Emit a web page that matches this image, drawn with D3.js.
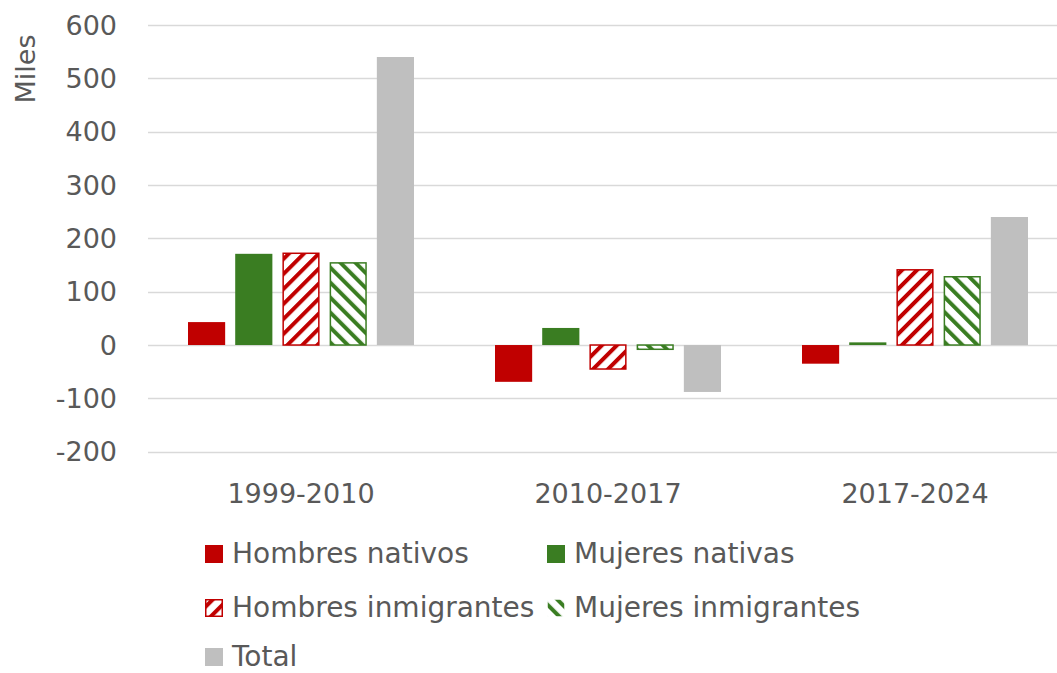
<!DOCTYPE html>
<html>
<head>
<meta charset="utf-8">
<script src="https://cdn.jsdelivr.net/npm/d3@7"></script>
<style>
  html, body { margin: 0; padding: 0; background: #fff; }
  svg { display: block; }
  text { font-family: "DejaVu Sans", sans-serif; fill: #595959; }
</style>
</head>
<body>
<svg id="chart" width="1057" height="673"></svg>
<script>
const categories = ["1999-2010", "2010-2017", "2017-2024"];
const seriesNames = ["Hombres nativos", "Mujeres nativas", "Hombres inmigrantes", "Mujeres inmigrantes", "Total"];
const hombresNativos = [43, -69, -35];
const mujeresNativas = [171, 32, 5];
const hombresInmigrantes = [172, -45, 141];
const mujeresInmigrantes = [154, -8, 128];
const total = [540, -88, 240];
const yTicks = [-200, -100, 0, 100, 200, 300, 400, 500, 600];
const yLabel = "Miles";

const seriesValues = [hombresNativos, mujeresNativas, hombresInmigrantes, mujeresInmigrantes, total];
const styles = [
  { fill: "#c00000", stroke: "none" },
  { fill: "#3a7d22", stroke: "none" },
  { fill: "url(#hatchRed)", stroke: "#c00000" },
  { fill: "url(#hatchGreen)", stroke: "#3a7d22" },
  { fill: "#bfbfbf", stroke: "none" }
];

const svg = d3.select("#chart");
const defs = svg.append("defs");
function hatch(id, color, angle) {
  const p = defs.append("pattern").attr("id", id)
    .attr("patternUnits", "userSpaceOnUse")
    .attr("width", 10.6).attr("height", 10.6)
    .attr("patternTransform", `rotate(${angle})`);
  p.append("rect").attr("width", 10.6).attr("height", 10.6).attr("fill", "#fff");
  p.append("rect").attr("x", 0).attr("width", 4).attr("height", 10.6).attr("fill", color);
}
hatch("hatchRed", "#c00000", 45);
hatch("hatchGreen", "#3a7d22", -45);

const plotLeft = 148, plotRight = 1069, gridRight = 1057;
const y = d3.scaleLinear().domain([-200, 600]).range([451.7, 25]);
const x0 = d3.scaleBand().domain(categories).range([plotLeft, plotRight]);
const x1 = d3.scaleBand().domain(seriesNames).range([40, 266]).paddingInner(10 / 47);

// grid
svg.append("g").selectAll("line").data(yTicks).join("line")
  .attr("x1", plotLeft).attr("x2", gridRight)
  .attr("y1", d => Math.round(y(d)) + 0.5).attr("y2", d => Math.round(y(d)) + 0.5)
  .attr("stroke", "#d9d9d9").attr("stroke-width", 1.3);

// y tick labels
svg.append("g").selectAll("text").data(yTicks).join("text")
  .attr("x", 117).attr("y", d => y(d)).attr("dy", "0.36em")
  .attr("text-anchor", "end").attr("font-size", 27)
  .text(d => d);

// y label
svg.append("text")
  .attr("transform", "translate(35,69) rotate(-90)")
  .attr("text-anchor", "middle").attr("font-size", 27)
  .text(yLabel);

// bars
seriesNames.forEach((name, si) => {
  const st = styles[si];
  svg.append("g").selectAll("rect").data(seriesValues[si]).join("rect")
    .attr("x", (d, i) => x0(categories[i]) + x1(name) + (st.stroke !== "none" ? 0.75 : 0))
    .attr("width", x1.bandwidth() - (st.stroke !== "none" ? 1.5 : 0))
    .attr("y", d => Math.min(y(d), y(0)))
    .attr("height", d => Math.abs(y(d) - y(0)))
    .attr("fill", st.fill)
    .attr("stroke", st.stroke)
    .attr("stroke-width", st.stroke !== "none" ? 1.5 : 0);
});

// x labels
svg.append("g").selectAll("text").data(categories).join("text")
  .attr("x", d => x0(d) + x1("Hombres inmigrantes") + x1.bandwidth() / 2)
  .attr("y", 503)
  .attr("text-anchor", "middle").attr("font-size", 27)
  .text(d => d);

// legend
const legendPos = [
  { x: 205, y: 563 }, { x: 547, y: 563 },
  { x: 205, y: 617 }, { x: 547, y: 617 },
  { x: 205, y: 666 }
];
seriesNames.forEach((name, si) => {
  const p = legendPos[si];
  const st = styles[si];
  const hatched = st.stroke !== "none";
  svg.append("rect")
    .attr("x", p.x + (hatched ? 0.75 : 0)).attr("y", p.y - 18 + (hatched ? 0.75 : 0))
    .attr("width", hatched ? 16.5 : 18).attr("height", hatched ? 16.5 : 18)
    .attr("fill", st.fill).attr("stroke", si === 2 ? st.stroke : "none")
    .attr("stroke-width", 1.5);
  svg.append("text")
    .attr("x", p.x + 27).attr("y", p.y)
    .attr("font-size", 28)
    .text(name);
});
</script>
</body>
</html>
